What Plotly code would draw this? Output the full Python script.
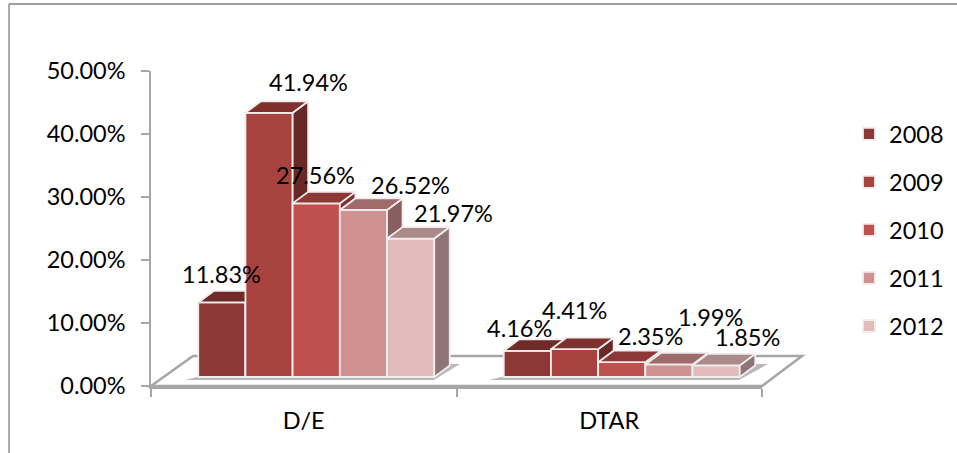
import plotly.graph_objects as go

# ---- data ----
CATEGORIES = ["D/E", "DTAR"]
YEARS = ["2008", "2009", "2010", "2011", "2012"]
VALUES_2008 = [11.83, 4.16]
VALUES_2009 = [41.94, 4.41]
VALUES_2010 = [27.56, 2.35]
VALUES_2011 = [26.52, 1.99]
VALUES_2012 = [21.97, 1.85]
SERIES = [VALUES_2008, VALUES_2009, VALUES_2010, VALUES_2011, VALUES_2012]
Y_TICKS = [0, 10, 20, 30, 40, 50]
Y_TICK_LABELS = ["0.00%", "10.00%", "20.00%", "30.00%", "40.00%", "50.00%"]

# ---- style ----
FRONT = ["#8c3836", "#a8423f", "#c0504d", "#d09291", "#e2bbbb"]
TOP = ["#6f2b29", "#7f302d", "#8c3836", "#9f6b6b", "#ac8a8a"]
SIDE = ["#652725", "#682825", "#7d3230", "#875f5e", "#8f7575"]
EDGE = "#f2eded"
GREY = "#a6a6a6"
FONT = "Lato, Carlito, sans-serif"
FS = 23.5

W, H = 957, 453
L, R, T, B = 151, 762, 71, 386          # front-plane axis box, pixels
PW, PH = R - L, B - T
YMAX = 50
PX_X = PW / 2.0                          # pixels per category
PX_Y = PH / YMAX                         # pixels per percent
SHIFT_X, SHIFT_Y = 12.5, 9               # bars stand further back on the floor
DEPTH_X, DEPTH_Y = 15.5, 11.5            # visible bar depth
BAR_W = 47.2 / PX_X
GROUP_LEFT = -2.5 * BAR_W
dx, dy = DEPTH_X / PX_X, DEPTH_Y / PX_Y

# label nudges from the bar's top centre, pixels (right, up)
LABEL_SHIFT = [
    [(0, 28), (-8, 23)],
    [(39, 31), (0, 39)],
    [(-1, 28), (29, 26)],
    [(47, 25), (42, 47)],
    [(43, 26), (31, 28)],
]

px = lambda x: x / W
py = lambda y: 1 - y / H

fig = go.Figure()

# main axes only carry the ticks and the category labels
fig.add_trace(go.Scatter(x=CATEGORIES, y=[0, 0], mode="none", showlegend=False, hoverinfo="skip"))

annotations = []
for i, (year, vals) in enumerate(zip(YEARS, SERIES)):
    n = i + 2
    xa, ya = f"x{n}", f"y{n}"
    offset = GROUP_LEFT + i * BAR_W
    pos = list(range(len(CATEGORIES)))
    fig.add_trace(go.Bar(
        x=pos, y=vals, name=year, width=BAR_W, offset=offset,
        marker=dict(color=FRONT[i], line=dict(color=EDGE, width=1.8)),
        xaxis=xa, yaxis=ya, legendgroup=year, hovertemplate="%{y:.2f}%<extra>" + year + "</extra>",
    ))
    for c, v in zip(pos, vals):
        x0, x1 = c + offset, c + offset + BAR_W
        fig.add_trace(go.Scatter(
            x=[x1, x1 + dx, x1 + dx, x1, x1], y=[0, dy, v + dy, v, 0],
            mode="lines", fill="toself", fillcolor=SIDE[i], line=dict(color=EDGE, width=1.8),
            xaxis=xa, yaxis=ya, showlegend=False, hoverinfo="skip", legendgroup=year,
        ))
        fig.add_trace(go.Scatter(
            x=[x0, x1, x1 + dx, x0 + dx, x0], y=[v, v, v + dy, v + dy, v],
            mode="lines", fill="toself", fillcolor=TOP[i], line=dict(color=EDGE, width=1.8),
            xaxis=xa, yaxis=ya, showlegend=False, hoverinfo="skip", legendgroup=year,
        ))
        sx, sy = LABEL_SHIFT[i][c]
        annotations.append(dict(
            x=(x0 + x1) / 2, y=v, xref=xa, yref=ya, text=f"{v:.2f}%", showarrow=False,
            xshift=sx, yshift=sy, font=dict(family=FONT, size=FS, color="#000000"),
        ))

# floor, shadows and chart frame
floor_back = (193, 356)
floor_back_r = (802, 356)
shapes = [
    dict(type="path", xref="paper", yref="paper", layer="below",
         path=(f"M{px(L)},{py(B)} L{px(floor_back[0])},{py(floor_back[1])} "
               f"L{px(floor_back_r[0])},{py(floor_back_r[1])} L{px(R)},{py(B)} Z"),
         fillcolor="#ffffff", line=dict(color=GREY, width=2.5)),
    dict(type="line", xref="paper", yref="paper", x0=px(9), x1=px(9), y0=py(4), y1=0,
         line=dict(color="#8f8f8f", width=1.5)),
    dict(type="line", xref="paper", yref="paper", x0=px(9), x1=1, y0=py(4), y1=py(4),
         line=dict(color="#808080", width=1.5)),
]
for x_left, x_right, y_front, x_far, y_far in [(185, 434, 380, 460, 364), (489, 739, 380, 768, 364)]:
    shapes.append(dict(
        type="path", xref="paper", yref="paper", layer="below",
        path=(f"M{px(x_left)},{py(y_front)} L{px(x_right)},{py(y_front)} "
              f"L{px(x_far)},{py(y_far)} L{px(x_right)},{py(y_far)} L{px(x_left + 12)},{py(y_front - 3)} Z"),
        fillcolor="rgba(125,125,125,0.55)", line=dict(width=0),
    ))

layout = dict(
    width=W, height=H, margin=dict(l=0, r=0, t=0, b=0, autoexpand=False),
    paper_bgcolor="#ffffff", plot_bgcolor="rgba(0,0,0,0)",
    font=dict(family=FONT, size=FS, color="#000000"),
    barmode="overlay", showlegend=True,
    legend=dict(
        x=px(849), y=py(112), xanchor="left", yanchor="top", tracegroupgap=14.5,
        font=dict(family=FONT, size=FS), bgcolor="rgba(0,0,0,0)", itemclick=False, itemdoubleclick=False,
    ),
    xaxis=dict(
        domain=[px(L), px(R)], type="category", categoryarray=CATEGORIES, categoryorder="array",
        range=[-0.5, 1.5], tickson="boundaries", ticks="outside", ticklen=8, tickcolor=GREY, tickwidth=1.5,
        showline=True, linecolor=GREY, linewidth=3, showgrid=False, zeroline=False, ticklabelstandoff=12,
        tickfont=dict(family=FONT, size=FS), anchor="y", fixedrange=True,
    ),
    yaxis=dict(
        domain=[py(B), py(T)], range=[0, YMAX], tickmode="array", tickvals=Y_TICKS, ticktext=Y_TICK_LABELS,
        ticks="outside", ticklen=8, tickcolor=GREY, tickwidth=1.5, ticklabelstandoff=11,
        showline=True, linecolor=GREY, linewidth=1.5, showgrid=False, zeroline=False,
        tickfont=dict(family=FONT, size=FS), anchor="x", fixedrange=True,
    ),
    annotations=annotations, shapes=shapes,
)
# one hidden overlaid axis pair per series, so that later bars paint over earlier sides
sx_u, sy_u = SHIFT_X / PX_X, SHIFT_Y / PX_Y
for i in range(len(YEARS)):
    n = i + 2
    layout[f"xaxis{n}"] = dict(overlaying="x", anchor=f"y{n}", visible=False, type="linear",
                               range=[-0.5 - sx_u, 1.5 - sx_u], fixedrange=True)
    layout[f"yaxis{n}"] = dict(overlaying="y", anchor=f"x{n}", visible=False, type="linear",
                               range=[-sy_u, YMAX - sy_u], fixedrange=True)
fig.update_layout(**layout)

fig.write_html("out.html", post_script="document.body.style.margin='0';",
               config={"displayModeBar": False})
